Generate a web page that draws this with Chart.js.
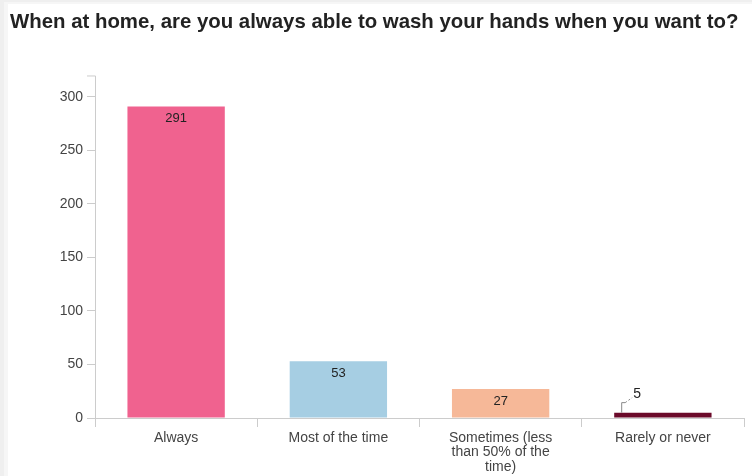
<!DOCTYPE html>
<html>
<head>
<meta charset="utf-8">
<script src="https://cdn.jsdelivr.net/npm/chart.js@4/dist/chart.umd.min.js"></script>
<style>
  html, body { margin: 0; padding: 0; background: #fff; }
  #wrap { width: 752px; height: 476px; }
</style>
</head>
<body>
<div id="wrap"><canvas id="handsChart" width="752" height="476"></canvas></div>
<script>
// answers and counts
const categories = [
    'Always',
    'Most of the time',
    ['Sometimes (less', 'than 50% of the', 'time)'],
    'Rarely or never'
];
const counts = [291, 53, 27, 5];
const barColors = ['#f0628f', '#a6cee3', '#f6b898', '#6b0a2a'];
const yTicks = [0, 50, 100, 150, 200, 250, 300];

const FONT = 'Arial, "Liberation Sans", sans-serif';

// grey frame round the white panel
const panelBg = {
    id: 'panelBg',
    beforeDraw(chart) {
        const c = chart.ctx;
        c.save();
        c.fillStyle = '#efefef';
        c.fillRect(0, 0, chart.width, chart.height);
        c.fillStyle = '#f6f6f6';
        c.fillRect(4, 2, chart.width, chart.height);
        c.fillStyle = '#ffffff';
        c.fillRect(8, 4, chart.width, chart.height);
        c.restore();
    }
};

// axis domain lines with end ticks
const axisDomain = {
    id: 'axisDomain',
    afterDraw(chart) {
        const c = chart.ctx;
        const a = chart.chartArea;
        c.save();
        c.strokeStyle = '#cccccc';
        c.lineWidth = 1;
        c.beginPath();
        c.moveTo(a.left - 8, a.top + 0.5);
        c.lineTo(a.left + 0.5, a.top + 0.5);
        c.lineTo(a.left + 0.5, a.bottom + 0.5);
        c.lineTo(a.right + 0.5, a.bottom + 0.5);
        c.lineTo(a.right + 0.5, a.bottom + 9);
        c.stroke();
        c.restore();
    }
};

// value labels: inside the bar top, or above with a leader for short bars
const valueLabels = {
    id: 'valueLabels',
    afterDatasetsDraw(chart) {
        const c = chart.ctx;
        const meta = chart.getDatasetMeta(0);
        c.save();
        c.font = '13px ' + FONT;
        c.fillStyle = '#222';
        c.textAlign = 'center';
        c.textBaseline = 'middle';
        meta.data.forEach((bar, i) => {
            const v = counts[i];
            const h = bar.base - bar.y;
            if (h > 24) {
                c.fillText(String(v), bar.x, bar.y + 12);
            } else {
                const x0 = bar.x - bar.width / 2 + 7;
                c.strokeStyle = '#888';
                c.lineWidth = 1;
                c.beginPath();
                c.moveTo(x0 + 0.5, bar.y);
                c.lineTo(x0 + 0.5, bar.y - 10);
                c.lineTo(x0 + 4, bar.y - 10);
                c.stroke();
                c.setLineDash([2, 2]);
                c.beginPath();
                c.moveTo(x0 + 4, bar.y - 10);
                c.lineTo(x0 + 11, bar.y - 15);
                c.stroke();
                c.setLineDash([]);
                c.textAlign = 'left';
                c.font = '14px ' + FONT;
                c.fillText(String(v), x0 + 12, bar.y - 19);
            }
        });
        c.restore();
    }
};

const ctx = document.getElementById('handsChart').getContext('2d');

const handsChart = new Chart(ctx, {
    type: 'bar',
    data: {
        labels: categories,
        datasets: [{
            data: counts,
            backgroundColor: barColors,
            borderWidth: 0,
            categoryPercentage: 1,
            barPercentage: 0.6
        }]
    },
    options: {
        responsive: false,
        animation: false,
        layout: { padding: { left: 10, right: 8, top: 0, bottom: 0 } },
        plugins: {
            legend: { display: false },
            tooltip: { enabled: false },
            title: {
                display: true,
                text: 'When at home, are you always able to wash your hands when you want to?',
                align: 'start',
                color: '#222',
                font: { family: FONT, size: 20.4, weight: 'bold' },
                padding: { top: 10, bottom: 41 }
            }
        },
        scales: {
            x: {
                offset: true,
                afterFit(scale) { scale.height = 58; },
                border: { display: false },
                grid: {
                    offset: true,
                    drawOnChartArea: false,
                    drawTicks: true,
                    tickLength: 9,
                    color: '#cccccc'
                },
                ticks: {
                    color: '#444',
                    padding: 4,
                    maxRotation: 0,
                    font: { family: FONT, size: 14, lineHeight: 1.02 }
                }
            },
            y: {
                min: 0,
                max: 320,
                afterFit(scale) { scale.width = 85; },
                afterBuildTicks(scale) {
                    scale.ticks = yTicks.map(v => ({ value: v }));
                },
                border: { display: false },
                grid: {
                    drawOnChartArea: false,
                    drawTicks: true,
                    tickLength: 8,
                    color: '#cccccc'
                },
                ticks: {
                    color: '#444',
                    padding: 4,
                    font: { family: FONT, size: 14 }
                }
            }
        }
    },
    plugins: [panelBg, axisDomain, valueLabels]
});
</script>
</body>
</html>
